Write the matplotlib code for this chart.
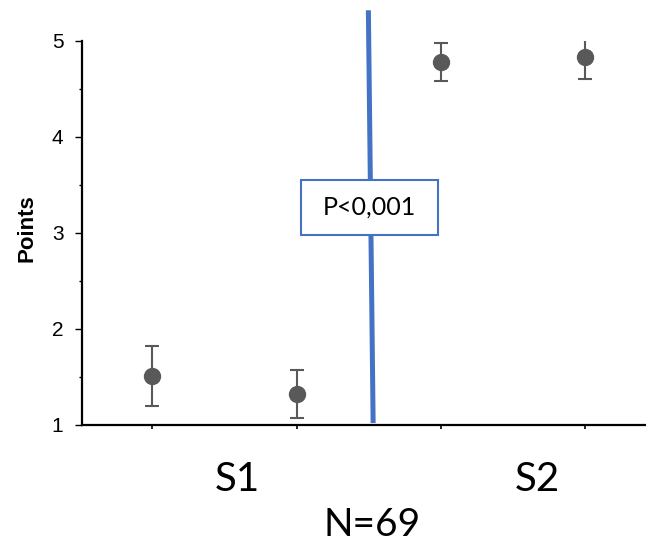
import numpy as np
import matplotlib
matplotlib.use("Agg")
import matplotlib.pyplot as plt
from matplotlib.patches import Rectangle
from matplotlib.ticker import MultipleLocator

plt.rcParams["font.family"] = ["Liberation Sans", "DejaVu Sans"]

# data
groups = [0, 1, 2, 3]
means = [1.51, 1.32, 4.78, 4.83]
errs = [0.31, 0.25, 0.20, 0.23]
y_ticks = [1, 2, 3, 4, 5]

BLUE = "#4472C4"
GREY = "#595959"

fig = plt.figure(figsize=(6.46, 5.43), dpi=100)
W, H = 646, 543
ax = fig.add_axes([81.5 / W, 1 - 425 / H, 1 - 81.5 / W, (425 - 41) / H])

ax.errorbar(groups, means, yerr=errs, fmt="o", color=GREY, ms=11.5,
            ecolor=GREY, elinewidth=1.5, capsize=5, capthick=1.5, zorder=3)

ax.set_xlim(-0.49, 3.42)
ax.set_ylim(1, 5)
ax.set_yticks(y_ticks)
ax.yaxis.set_minor_locator(MultipleLocator(0.5))
ax.set_xticks(groups)
ax.set_xticklabels([])

for s in ["top", "right"]:
    ax.spines[s].set_visible(False)
for s in ["left", "bottom"]:
    ax.spines[s].set_linewidth(1.6)

ax.tick_params(axis="y", which="major", length=5, width=1, pad=8,
               labelsize=15)
ax.tick_params(axis="y", which="minor", length=2.5, width=1)
ax.tick_params(axis="x", which="major", length=3, width=1.2)

ax.set_ylabel("Points", fontsize=16, fontweight="bold")
ax.yaxis.set_label_coords(-0.078, 0.513)

# divider line and p-value box
ax.plot([1.497, 1.53], [5.32, 1.02], color=BLUE, lw=3.6,
        solid_capstyle="butt", clip_on=False, zorder=4)
ax.add_patch(Rectangle((1.03, 2.98), 0.95, 0.57, facecolor="white",
                       edgecolor=BLUE, lw=1.5, zorder=5))
ax.text(1.505, 3.265, "P<0,001", ha="center", va="center", fontsize=18,
        family="Lato", zorder=6)

fig.text(237 / W, 1 - 491 / H, "S1", ha="center", va="baseline",
         fontsize=29, family="Lato")
fig.text(537 / W, 1 - 491 / H, "S2", ha="center", va="baseline",
         fontsize=29, family="Lato")
fig.text(372 / W, 1 - 536 / H, "N=69", ha="center", va="baseline",
         fontsize=28, family="Lato")

fig.savefig("out.png", dpi=100)
